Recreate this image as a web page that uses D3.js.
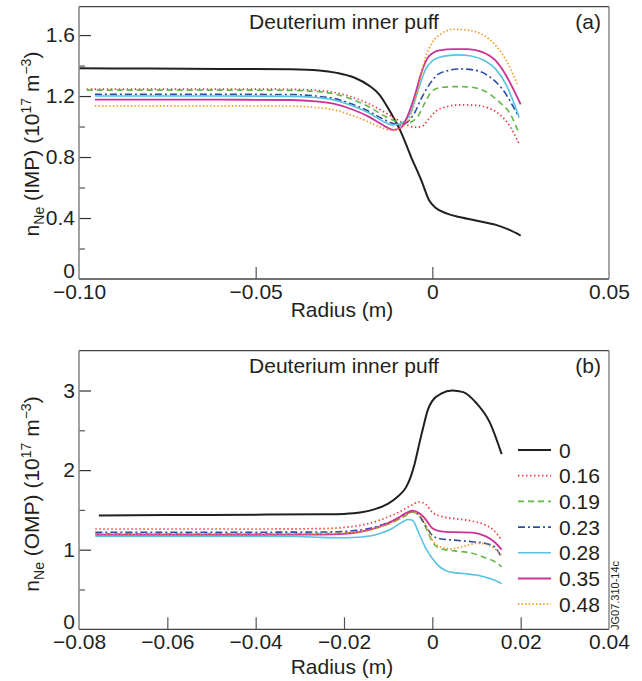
<!DOCTYPE html>
<html><head><meta charset="utf-8">
<script src="https://cdn.jsdelivr.net/npm/d3@7"></script>
<style>
body{margin:0;background:#fff;}
text{font-family:"Liberation Sans",Arial,Helvetica,sans-serif;fill:#231f20;}
</style>
</head><body>
<svg id="chart" width="642" height="681"></svg>
<script>
// ---------- series styling / labels ----------
const seriesLabels = ["0","0.16","0.19","0.23","0.28","0.35","0.48"];
const seriesColors = ["#231f20","#ee3338","#62b94a","#2e4da0","#58c4df","#cc3399","#f7941d"];
const seriesDash   = [null,"1.4,2.6","6,4","7,3,2,3",null,null,"1.4,2.2"];
const seriesWidth  = [2,1.7,1.6,1.6,1.6,1.8,1.7];

// ---------- panel (a): IMP ----------
const xTicksA = [-0.10,-0.05,0,0.05];
const xTickLabelsA = ["\u22120.10","\u22120.05","0","0.05"];
const yTicksA = [0,0.4,0.8,1.2,1.6];
const yTickLabelsA = ["0","0.4","0.8","1.2","1.6"];
const yMinorA = [0.2,0.6,1.0,1.4];

const rA0 = [-0.1,-0.08,-0.06,-0.04,-0.032,-0.027,-0.022,-0.018,-0.015,-0.012,-0.009,-0.006,-0.003,-0.001,0.001,0.004,0.008,0.013,0.018,0.022,0.025];
const nA0 = [1.382,1.380,1.378,1.375,1.368,1.352,1.32,1.27,1.21,1.10,0.97,0.80,0.64,0.52,0.465,0.43,0.405,0.38,0.355,0.32,0.285];

const rA16 = [-0.0978,-0.06,-0.04,-0.033,-0.028,-0.023,-0.018,-0.014,-0.011,-0.008,-0.005,-0.003,-0.001,0.001,0.004,0.008,0.012,0.016,0.019,0.022,0.0245];
const nA16 = [1.246,1.246,1.244,1.238,1.225,1.195,1.15,1.10,1.06,1.02,0.995,1.0,1.05,1.10,1.13,1.142,1.14,1.12,1.08,1.0,0.89];

const rA19 = [-0.0978,-0.06,-0.04,-0.033,-0.028,-0.023,-0.018,-0.014,-0.011,-0.008,-0.006,-0.004,-0.002,0.0,0.003,0.007,0.011,0.015,0.019,0.022,0.0245];
const nA19 = [1.239,1.239,1.237,1.23,1.215,1.18,1.13,1.075,1.04,1.02,1.03,1.07,1.16,1.235,1.258,1.262,1.258,1.23,1.16,1.085,0.955];

const rA23 = [-0.0955,-0.06,-0.04,-0.033,-0.028,-0.023,-0.018,-0.014,-0.011,-0.009,-0.007,-0.005,-0.003,-0.001,0.001,0.004,0.008,0.012,0.016,0.02,0.0245];
const nA23 = [1.211,1.211,1.21,1.20,1.185,1.15,1.10,1.05,1.02,1.01,1.03,1.09,1.19,1.27,1.33,1.365,1.378,1.37,1.33,1.24,1.06];

const rA28 = [-0.0955,-0.06,-0.04,-0.033,-0.028,-0.023,-0.018,-0.014,-0.011,-0.008,-0.006,-0.004,-0.002,0.0,0.003,0.007,0.011,0.015,0.018,0.021,0.0245];
const nA28 = [1.2,1.2,1.198,1.19,1.175,1.14,1.09,1.035,1.01,1.03,1.10,1.24,1.37,1.43,1.46,1.47,1.463,1.43,1.375,1.27,1.065];

const rA35 = [-0.0955,-0.06,-0.04,-0.033,-0.028,-0.023,-0.018,-0.014,-0.011,-0.009,-0.007,-0.005,-0.003,-0.001,0.002,0.006,0.01,0.014,0.018,0.021,0.025];
const nA35 = [1.176,1.176,1.174,1.165,1.15,1.115,1.065,1.01,0.978,0.99,1.07,1.20,1.36,1.46,1.50,1.508,1.508,1.49,1.43,1.33,1.145];

const rA48 = [-0.0955,-0.06,-0.04,-0.033,-0.028,-0.023,-0.018,-0.014,-0.012,-0.009,-0.006,-0.004,-0.002,0.0,0.003,0.006,0.01,0.014,0.018,0.021,0.024];
const nA48 = [1.136,1.136,1.134,1.125,1.11,1.075,1.03,0.99,0.977,0.99,1.08,1.25,1.45,1.55,1.615,1.638,1.632,1.605,1.53,1.43,1.28];

// ---------- panel (b): OMP ----------
const xTicksB = [-0.08,-0.06,-0.04,-0.02,0,0.02,0.04];
const xTickLabelsB = ["\u22120.08","\u22120.06","\u22120.04","\u22120.02","0","0.02","0.04"];
const yTicksB = [0,1,2,3];
const yTickLabelsB = ["0","1","2","3"];
const yMinorB = [0.5,1.5,2.5];

const rB0 = [-0.0755,-0.06,-0.04,-0.025,-0.02,-0.016,-0.013,-0.01,-0.008,-0.006,-0.005,-0.004,-0.003,-0.002,-0.001,0.0,0.002,0.0045,0.007,0.01,0.013,0.0157];
const nB0 = [1.43,1.435,1.44,1.445,1.45,1.47,1.51,1.58,1.66,1.78,1.90,2.08,2.32,2.55,2.76,2.87,2.96,3.0,2.98,2.84,2.60,2.20];

const rB16 = [-0.0763,-0.04,-0.025,-0.02,-0.015,-0.011,-0.008,-0.005,-0.003,-0.0015,0.0,0.002,0.005,0.009,0.012,0.014,0.0157];
const nB16 = [1.26,1.26,1.265,1.28,1.32,1.39,1.46,1.55,1.60,1.57,1.47,1.42,1.39,1.36,1.31,1.24,1.12];

const rB19 = [-0.0763,-0.04,-0.025,-0.02,-0.015,-0.011,-0.008,-0.006,-0.0045,-0.003,-0.0015,0.0,0.002,0.005,0.009,0.012,0.014,0.0157];
const nB19 = [1.20,1.20,1.202,1.21,1.24,1.30,1.37,1.43,1.47,1.43,1.28,1.10,1.01,0.985,0.955,0.90,0.855,0.785];

const rB23 = [-0.0763,-0.04,-0.025,-0.02,-0.015,-0.011,-0.008,-0.006,-0.0045,-0.003,-0.0015,0.0,0.002,0.005,0.009,0.012,0.014,0.0157];
const nB23 = [1.22,1.22,1.222,1.23,1.26,1.32,1.39,1.45,1.48,1.43,1.30,1.18,1.135,1.12,1.10,1.08,1.04,0.90];

const rB28 = [-0.0763,-0.04,-0.03,-0.025,-0.02,-0.016,-0.012,-0.009,-0.007,-0.0055,-0.0045,-0.003,-0.0015,0.0,0.002,0.004,0.007,0.011,0.014,0.0157];
const nB28 = [1.17,1.17,1.165,1.155,1.15,1.16,1.20,1.27,1.34,1.38,1.37,1.20,1.02,0.89,0.77,0.72,0.70,0.67,0.62,0.575];

const rB35 = [-0.0763,-0.04,-0.025,-0.02,-0.015,-0.011,-0.008,-0.006,-0.0045,-0.003,-0.0015,0.0,0.002,0.005,0.009,0.012,0.014,0.0157];
const nB35 = [1.19,1.19,1.19,1.20,1.24,1.31,1.39,1.46,1.49,1.46,1.38,1.27,1.23,1.22,1.215,1.17,1.10,1.0];

const rB48 = [-0.0763,-0.04,-0.025,-0.02,-0.015,-0.011,-0.008,-0.006,-0.0045,-0.003,-0.0015,0.0,0.002,0.004,0.007,0.01,0.012,0.014,0.0157];
const nB48 = [1.20,1.20,1.20,1.21,1.24,1.30,1.37,1.43,1.47,1.44,1.32,1.12,1.03,1.01,1.04,1.08,1.07,1.02,0.93];

const seriesA = [[rA0,nA0],[rA16,nA16],[rA19,nA19],[rA23,nA23],[rA28,nA28],[rA35,nA35],[rA48,nA48]];
const seriesB = [[rB0,nB0],[rB16,nB16],[rB19,nB19],[rB23,nB23],[rB28,nB28],[rB35,nB35],[rB48,nB48]];

// ---------- drawing ----------
const svg = d3.select("#chart");
const FS = 21;

function panel(cfg){
  const x = d3.scaleLinear().domain(cfg.xDomain).range([79,609]);
  const y = d3.scaleLinear().domain(cfg.yDomain).range(cfg.yRange);
  const g = svg.append("g");
  const top = cfg.yRange[1], bot = cfg.yRange[0];

  const line = d3.line().x(d=>x(d[0])).y(d=>y(d[1])).curve(d3.curveMonotoneX);
  cfg.series.forEach((s,i)=>{
    const pts = s[0].map((r,k)=>[r,s[1][k]]);
    g.append("path").attr("d",line(pts))
      .attr("fill","none").attr("stroke",seriesColors[i])
      .attr("stroke-width",seriesWidth[i])
      .attr("stroke-dasharray",seriesDash[i])
      .attr("stroke-linejoin","round");
  });

  const xa = g.append("g").attr("transform",`translate(0,${bot})`)
    .call(d3.axisBottom(x).tickValues(cfg.xTicks).tickSize(-12).tickPadding(5)
      .tickFormat((d,i)=>cfg.xTickLabels[i]));
  xa.select(".domain").remove();
  xa.selectAll(".tick line").attr("stroke","#555").attr("stroke-width",1.2)
    .attr("opacity",(d,i)=> (i===0||i===cfg.xTicks.length-1)?0:1);
  xa.selectAll("text").attr("font-size",FS).attr("font-family",null).style("fill","#231f20");

  const ya = g.append("g").attr("transform","translate(79,0)")
    .call(d3.axisLeft(y).tickValues(cfg.yTicks).tickSize(-12).tickPadding(4)
      .tickFormat((d,i)=>cfg.yTickLabels[i]));
  ya.select(".domain").remove();
  ya.selectAll(".tick line").attr("stroke","#333").attr("stroke-width",1.2)
    .attr("opacity",d=> d===0?0:1);
  ya.selectAll("text").attr("font-size",FS).attr("font-family",null).style("fill","#231f20")
    .attr("y",d=> d===0?-8:0);
  const ym = g.append("g").attr("transform","translate(79,0)")
    .call(d3.axisLeft(y).tickValues(cfg.yMinor).tickSize(-6).tickFormat(""));
  ym.select(".domain").remove();
  ym.selectAll(".tick line").attr("stroke","#555").attr("stroke-width",1.2);

  g.append("line").attr("x1",79).attr("x2",609).attr("y1",top).attr("y2",top).attr("stroke","#444").attr("stroke-width",1.3);
  g.append("line").attr("x1",79).attr("x2",609).attr("y1",bot).attr("y2",bot).attr("stroke","#444").attr("stroke-width",1.3);
  g.append("line").attr("x1",79).attr("x2",79).attr("y1",top).attr("y2",bot).attr("stroke","#8a8a8a").attr("stroke-width",1.6);
  g.append("line").attr("x1",609).attr("x2",609).attr("y1",top).attr("y2",bot).attr("stroke","#777").attr("stroke-width",1.3);

  g.append("text").attr("x",344).attr("y",top+22.5).attr("text-anchor","middle").attr("font-size",FS).text("Deuterium inner puff");
  g.append("text").attr("x",601).attr("y",top+22.5).attr("text-anchor","end").attr("font-size",FS).text(cfg.letter);

  g.append("text").attr("x",342).attr("y",cfg.xLabelY).attr("text-anchor","middle").attr("font-size",FS).text("Radius (m)");

  const yl = g.append("text").attr("transform",`translate(39,${cfg.yLabelC}) rotate(-90)`)
    .attr("text-anchor","middle").attr("font-size",FS);
  yl.append("tspan").text("n");
  yl.append("tspan").attr("font-size",14).attr("dy",5).text("Ne");
  yl.append("tspan").attr("dy",-5).text(` (${cfg.loc}) (10`);
  yl.append("tspan").attr("font-size",14).attr("dy",-8).text("17");
  yl.append("tspan").attr("dy",8).text(" m");
  yl.append("tspan").attr("font-size",14).attr("dy",-8).text("\u22123");
  yl.append("tspan").attr("dy",8).text(")");
  return {x,y,g};
}

panel({xDomain:[-0.1,0.05], yDomain:[0,1.786], yRange:[279,6.7],
  xTicks:xTicksA, xTickLabels:xTickLabelsA, yTicks:yTicksA, yTickLabels:yTickLabelsA, yMinor:yMinorA,
  series:seriesA, letter:"(a)", xLabelY:317, yLabelC:144, loc:"IMP"});

panel({xDomain:[-0.08,0.04], yDomain:[0,3.5], yRange:[629.3,350.7],
  xTicks:xTicksB, xTickLabels:xTickLabelsB, yTicks:yTicksB, yTickLabels:yTickLabelsB, yMinor:yMinorB,
  series:seriesB, letter:"(b)", xLabelY:673.5, yLabelC:494, loc:"OMP"});

const legY0 = 450, legDY = 25.7;
const leg = svg.append("g");
seriesLabels.forEach((lab,i)=>{
  const yy = legY0 + i*legDY;
  leg.append("line").attr("x1",518).attr("x2",551).attr("y1",yy).attr("y2",yy)
    .attr("stroke",seriesColors[i]).attr("stroke-width",seriesWidth[i])
    .attr("stroke-dasharray",seriesDash[i]);
  leg.append("text").attr("x",559).attr("y",yy+7.5).attr("font-size",FS).text(lab);
});

svg.append("text").attr("transform","translate(618.5,630) rotate(-90)")
  .attr("font-size",11).text("JG07.310-14c");
</script>
</body></html>
